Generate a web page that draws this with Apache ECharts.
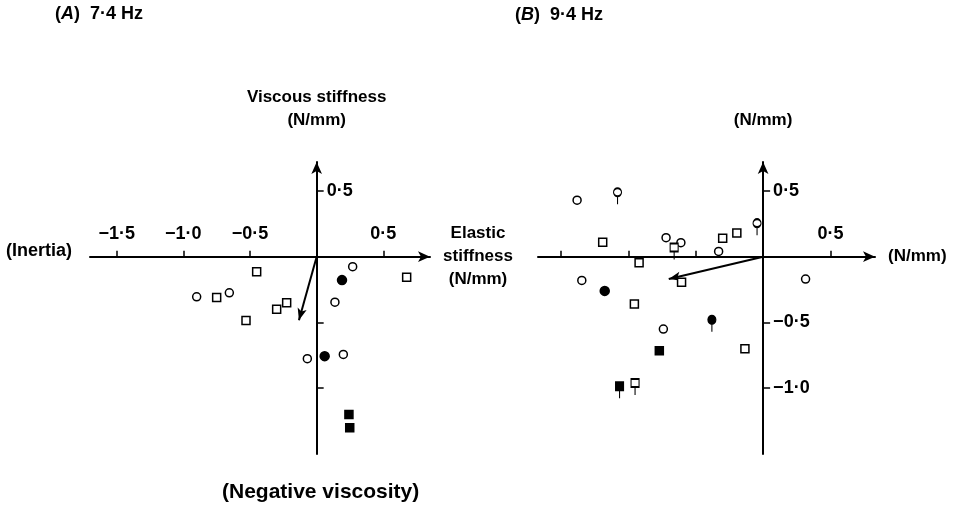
<!DOCTYPE html>
<html>
<head>
<meta charset="utf-8">
<title>Elastic and viscous stiffness</title>
<script src="https://cdn.jsdelivr.net/npm/echarts@6/dist/echarts.min.js"></script>
<style>
  html, body { margin: 0; padding: 0; background: #fff; }
  #chart { width: 964px; height: 508px; }
</style>
</head>
<body>
<div id="chart"></div>
<script>
// (A) 7.4 Hz  -- [elastic, viscous] in N/mm
var aOpenCircle = [[-0.90, -0.305], [-0.655, -0.275], [0.27, -0.076], [0.137, -0.346], [-0.07, -0.775], [0.20, -0.743]]
var aOpenSquare = [[-0.45, -0.115], [-0.75, -0.31], [-0.53, -0.485], [-0.30, -0.40], [-0.225, -0.35], [0.675, -0.157]]
var aFilledCircle = [[0.19, -0.178], [0.06, -0.756]]
var aFilledSquare = [[0.242, -1.20], [0.248, -1.30]]
var aResultant = [-0.133, -0.483]

// (B) 9.4 Hz
var bOpenCircle = [[-1.38, 0.43], [-0.72, 0.145], [-0.61, 0.107], [-0.33, 0.04], [-1.345, -0.18], [0.315, -0.17], [-0.74, -0.55]]
var bOpenSquare = [[-1.19, 0.11], [-0.30, 0.14], [-0.195, 0.18], [-0.92, -0.046], [-0.605, -0.195], [-0.955, -0.36], [-0.135, -0.70]]
var bFilledCircle = [[-1.175, -0.26]]
var bFilledSquare = [[-0.77, -0.715]]
var bPinOpenCircle = [[-1.08, 0.49], [-0.045, 0.255]]
var bPinOpenSquare = [[-0.66, 0.07], [-0.95, -0.96]]
var bPinFilledCircle = [[-0.38, -0.48]]
var bPinFilledSquare = [[-1.065, -0.985]]
var bResultant = [-0.70, -0.17]

// tick positions / labels
var aXTicks = [-1.5, -1.0, -0.5, 0.5]
var aXLabels = [-1.5, -1.0, -0.5, 0.5]
var aYTicks = [0.5, -0.5, -1.0]
var aYLabels = [0.5]
var bXTicks = [-1.5, -1.0, -0.5, 0.5]
var bXLabels = [0.5]
var bYTicks = [0.5, -0.5, -1.0]
var bYLabels = [0.5, -0.5, -1.0]

var FONT = 'Liberation Sans'
var PIN_CIRCLE = 'path://M1,5 A4,4 0 1,1 9,5 A4,4 0 1,1 1,5 Z M5,9 L5,17'
var PIN_SQUARE = 'path://M1,1 L9,1 L9,9 L1,9 Z M5,9 L5,17'

var grids = [
  { left: 90, top: 162, width: 340, height: 292, xMin: -1.70, xMax: 0.85, yMin: -1.5, yMax: 0.72 },
  { left: 538, top: 162, width: 337, height: 292, xMin: -1.67, xMax: 0.83, yMin: -1.5, yMax: 0.72 }
]

function fmt(v) {
  var s = Math.abs(v).toFixed(1).replace('.', '\u00b7')
  return v < 0 ? '\u2212' + s : s
}

// axes cross at the origin: shift the bottom / left axes in to the zero line
function xOffset(g) {
  return -g.height * (0 - g.yMin) / (g.yMax - g.yMin)
}
function yOffset(g) {
  return -g.width * (0 - g.xMin) / (g.xMax - g.xMin)
}

function xAxisOf(idx, ticks, labels, name, nameOpt) {
  var g = grids[idx]
  var ax = {
    type: 'value', gridIndex: idx, min: g.xMin, max: g.xMax, position: 'bottom', offset: xOffset(g),
    axisLine: { onZero: false, lineStyle: { color: '#000', width: 2 }, symbol: ['none', 'arrow'], symbolSize: [8, 12] },
    axisTick: { inside: true, length: 6, lineStyle: { color: '#000', width: 1.5 }, customValues: ticks },
    axisLabel: { inside: true, margin: 14, color: '#000', fontFamily: FONT, fontWeight: 'bold', fontSize: 18, customValues: labels, formatter: fmt },
    splitLine: { show: false },
    name: name, nameLocation: 'end'
  }
  for (var k in nameOpt) ax[k] = nameOpt[k]
  return ax
}

function yAxisOf(idx, ticks, labels, name) {
  var g = grids[idx]
  return {
    type: 'value', gridIndex: idx, min: g.yMin, max: g.yMax, position: 'left', offset: yOffset(g),
    axisLine: { onZero: false, lineStyle: { color: '#000', width: 2 }, symbol: ['none', 'arrow'], symbolSize: [8, 12] },
    axisTick: { inside: true, length: 7, lineStyle: { color: '#000', width: 1.5 }, customValues: ticks },
    axisLabel: { inside: true, margin: 10, color: '#000', fontFamily: FONT, fontWeight: 'bold', fontSize: 18, customValues: labels, formatter: fmt },
    splitLine: { show: false },
    name: name, nameLocation: 'end', nameGap: 30,
    nameTextStyle: { color: '#000', fontFamily: FONT, fontWeight: 'bold', fontSize: 17, lineHeight: 23, align: 'center' }
  }
}

function dots(idx, data, symbol, size, filled, offset) {
  return {
    type: 'scatter', xAxisIndex: idx, yAxisIndex: idx, data: data,
    symbol: symbol, symbolSize: size, symbolOffset: offset || [0, 0],
    itemStyle: { color: filled ? '#000' : '#fff', borderColor: '#000', borderWidth: 1.5, opacity: 1 },
    z: 5, silent: true
  }
}

function resultant(idx, end) {
  return {
    type: 'scatter', xAxisIndex: idx, yAxisIndex: idx, data: [],
    markLine: {
      silent: true, animation: false,
      symbol: ['none', 'arrow'], symbolSize: [7, 12],
      label: { show: false },
      lineStyle: { color: '#000', width: 2, type: 'solid' },
      data: [[{ coord: [0, 0] }, { coord: end }]]
    }
  }
}

var chart = echarts.init(document.getElementById('chart'))
var txt = { fill: '#000', fontFamily: FONT, fontWeight: 'bold', fontSize: 18 }
var ital = { i: { fontStyle: 'italic', fontFamily: FONT, fontWeight: 'bold', fontSize: 18 } }

chart.setOption({
  backgroundColor: '#fff',
  animation: false,
  grid: grids.map(function (g) {
    return { left: g.left, top: g.top, width: g.width, height: g.height }
  }),
  xAxis: [
    xAxisOf(0, aXTicks, aXLabels, 'Elastic\nstiffness\n(N/mm)', {
      nameGap: 48,
      nameTextStyle: { color: '#000', fontFamily: FONT, fontWeight: 'bold', fontSize: 17, lineHeight: 23, align: 'center', verticalAlign: 'middle', padding: [0, 0, 30, 0] }
    }),
    xAxisOf(1, bXTicks, bXLabels, '(N/mm)', {
      nameGap: 13,
      nameTextStyle: { color: '#000', fontFamily: FONT, fontWeight: 'bold', fontSize: 17, verticalAlign: 'middle', padding: [0, 0, 16, 0] }
    })
  ],
  yAxis: [
    yAxisOf(0, aYTicks, aYLabels, 'Viscous stiffness\n(N/mm)'),
    yAxisOf(1, bYTicks, bYLabels, '(N/mm)')
  ],
  graphic: [
    { type: 'text', left: 55, top: 5, style: Object.assign({}, txt, { text: '({i|A})  7\u00b74 Hz', rich: ital }) },
    { type: 'text', left: 515, top: 6, style: Object.assign({}, txt, { text: '({i|B})  9\u00b74 Hz', rich: ital }) },
    { type: 'text', left: 6, top: 242, style: Object.assign({}, txt, { text: '(Inertia)', fontSize: 18 }) },
    { type: 'text', left: 222, top: 482, style: Object.assign({}, txt, { text: '(Negative viscosity)', fontSize: 21 }) }
  ],
  series: [
    dots(0, aOpenCircle, 'circle', 8, false),
    dots(0, aOpenSquare, 'rect', 8, false),
    dots(0, aFilledCircle, 'circle', 9, true),
    dots(0, aFilledSquare, 'rect', 8, true),
    resultant(0, aResultant),

    dots(1, bOpenCircle, 'circle', 8, false),
    dots(1, bOpenSquare, 'rect', 8, false),
    dots(1, bFilledCircle, 'circle', 9, true),
    dots(1, bFilledSquare, 'rect', 8, true),
    dots(1, bPinOpenCircle, PIN_CIRCLE, [8, 16], false, [0, 4]),
    dots(1, bPinOpenSquare, PIN_SQUARE, [8, 16], false, [0, 4]),
    dots(1, bPinFilledCircle, PIN_CIRCLE, [8, 16], true, [0, 4]),
    dots(1, bPinFilledSquare, PIN_SQUARE, [8, 16], true, [0, 4]),
    resultant(1, bResultant)
  ]
})
</script>
</body>
</html>
